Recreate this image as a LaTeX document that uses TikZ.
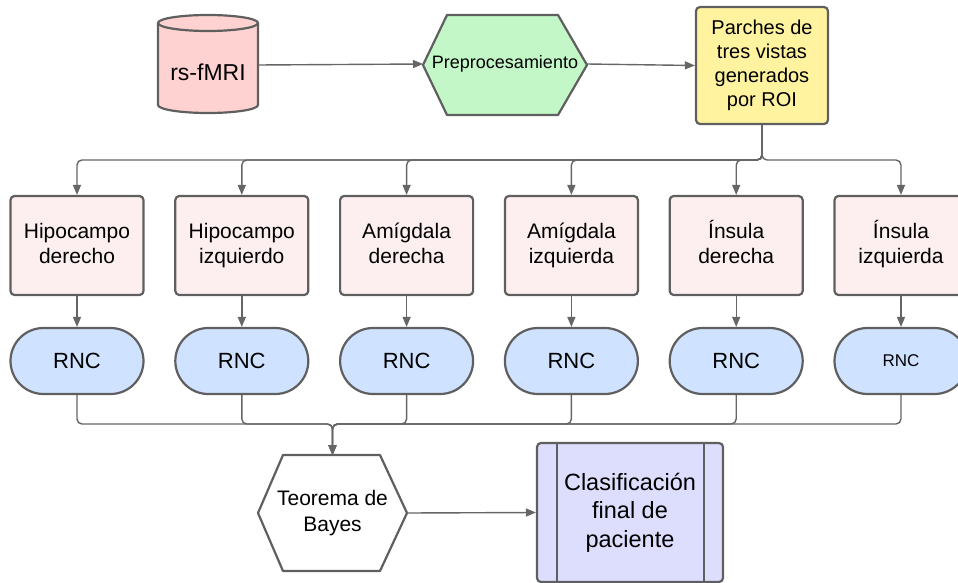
\documentclass[tikz,border=0pt]{standalone}
\usepackage{fontspec}
\setmainfont{Liberation Sans}
\usetikzlibrary{arrows.meta}
\definecolor{edge}{HTML}{5F5F5F}
\definecolor{conn}{HTML}{666666}
\definecolor{cylfill}{HTML}{FFD2D2}
\definecolor{hexfill}{HTML}{C3F7C8}
\definecolor{parfill}{HTML}{FFF3A0}
\definecolor{boxfill}{HTML}{FDEFEF}
\definecolor{pillfill}{HTML}{CFE2FF}
\definecolor{clafill}{HTML}{DDDDFD}
\tikzset{
  shapeline/.style={draw=edge, line width=2.2pt, line join=round},
  connline/.style={draw=conn, line width=1.4pt, rounded corners=5pt},
  arr/.style={connline, -{Triangle[length=10pt,width=8pt]}},
  ghost/.style={inner sep=0pt, outer sep=0pt},
  regbox/.style={shapeline, fill=boxfill, rounded corners=4pt, minimum width=133pt, minimum height=99pt, inner sep=0pt, align=center, font=\fontsize{21}{25}\selectfont},
  pill/.style={shapeline, fill=pillfill, rounded corners=33pt, minimum width=133pt, minimum height=66pt, inner sep=0pt, font=\fontsize{22}{26}\selectfont},
}
\begin{document}
\begin{tikzpicture}[x=1pt,y=1pt]
\useasboundingbox (0,0) rectangle (958,-583);
% cylinder
\filldraw[shapeline, fill=cylfill] (158,-23) -- (158,-105) arc[start angle=180,end angle=360,x radius=50,y radius=8] -- (258,-23) arc[start angle=0,end angle=180,x radius=50,y radius=8] -- cycle;
\draw[shapeline] (158,-23) arc[start angle=180,end angle=360,x radius=50,y radius=8];
\node[ghost, minimum width=100pt, minimum height=98pt] (cyl) at (208,-65) {};
\node[font=\fontsize{23}{27}\selectfont] (cyltext) at (208,-72) {rs-fMRI};
% preprocessing hexagon
\filldraw[shapeline, fill=hexfill] (423,-65) -- (447,-15) -- (558,-15) -- (587,-65) -- (558,-115) -- (447,-115) -- cycle;
\node[ghost, minimum width=164pt, minimum height=100pt, font=\fontsize{18}{22}\selectfont] (prep) at (505,-64) {Preprocesamiento};
% parches
\node[shapeline, fill=parfill, rounded corners=4pt, minimum width=132pt, minimum height=117pt, inner sep=0pt, align=center, font=\fontsize{20}{24}\selectfont] (par) at (762,-65.5) {Parches de\\tres vistas\\generados\\por ROI};
\draw[arr] (cyl.east) -- (prep.west);
\draw[arr] (prep.east) -- (par.west);
% regions
\node[regbox] (b1) at (77,-245.5) {Hipocampo\strut\\derecho\strut};
\node[regbox] (b2) at (241.8,-245.5) {Hipocampo\strut\\izquierdo\strut};
\node[regbox] (b3) at (406.6,-245.5) {Amígdala\strut\\derecha\strut};
\node[regbox] (b4) at (571.4,-245.5) {Amígdala\strut\\izquierda\strut};
\node[regbox] (b5) at (736.2,-245.5) {Ínsula\strut\\derecha\strut};
\node[regbox] (b6) at (901,-245.5) {Ínsula\strut\\izquierda\strut};
% pills
\node[pill] (p1) at (77,-361) {RNC};
\node[pill] (p2) at (241.8,-361) {RNC};
\node[pill] (p3) at (406.6,-361) {RNC};
\node[pill] (p4) at (571.4,-361) {RNC};
\node[pill] (p5) at (736.2,-361) {RNC};
\node[pill, font=\fontsize{17}{20}\selectfont] (p6) at (901,-361) {RNC};
% split
\coordinate (split) at (762,-160);
\foreach \i in {1,...,6} {
  \draw[arr] (par.south) -- (split) -| (b\i.north);
  \draw[arr] (b\i.south) -- (p\i.north);
}
% bayes hexagon
\filldraw[shapeline, fill=white] (258,-513) -- (283,-455) -- (380,-455) -- (407,-513) -- (380,-571) -- (283,-571) -- cycle;
\node[ghost, minimum width=149pt, minimum height=116pt, align=center, font=\fontsize{21}{26}\selectfont] (bay) at (332.5,-513) {Teorema de\\Bayes};
% merge
\coordinate (merge) at (332.5,-424);
\foreach \i in {1,...,6} {
  \draw[arr] (p\i.south) |- (merge) -- (bay.north);
}
% final
\node[shapeline, fill=clafill, rounded corners=4pt, minimum width=186pt, minimum height=139pt, inner sep=0pt, align=center, font=\fontsize{23.5}{28.3}\selectfont] (cla) at (630,-512.5) {Clasificación\\final de\\paciente};
\draw[shapeline] (557,-443) -- (557,-582);
\draw[shapeline] (704,-443) -- (704,-582);
\draw[arr] (bay.east) -- (cla.west);
\end{tikzpicture}
\end{document}
